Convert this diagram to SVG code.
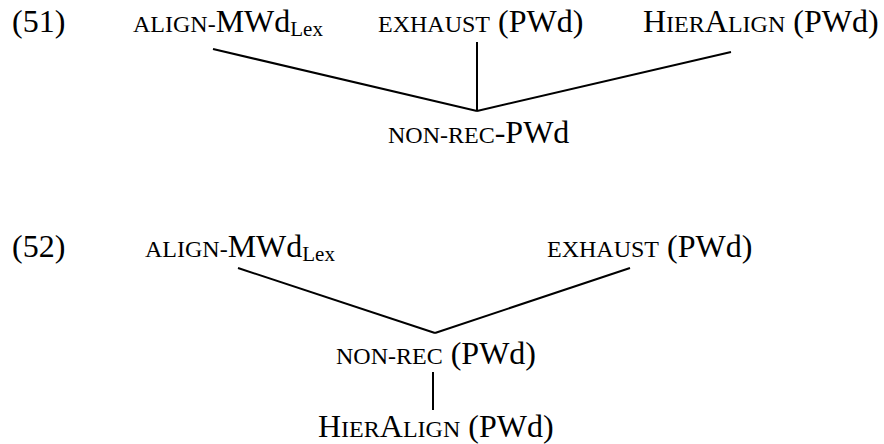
<svg xmlns="http://www.w3.org/2000/svg" width="884" height="444" viewBox="0 0 884 444">
<style>
text{font-family:"Liberation Serif","Times New Roman",serif;font-size:32px;fill:#000}
.sc{font-size:24px}
.sub{font-size:21px}
.ln{stroke:#000;stroke-width:2;fill:none}
</style>
<rect width="884" height="444" fill="#fff"/>
<g id="ex51">
<text x="12" y="32">(51)</text>
<g id="n51-align"><text x="133" y="32"><tspan class="sc">ALIGN-</tspan>MWd<tspan class="sub" dy="4">Lex</tspan></text></g>
<g id="n51-exhaust"><text x="378" y="32"><tspan class="sc">EXHAUST</tspan> (PWd)</text></g>
<g id="n51-hier"><text x="643" y="32">H<tspan class="sc">IER</tspan>A<tspan class="sc">LIGN</tspan> (PWd)</text></g>
<g id="n51-nonrec"><text x="388" y="143"><tspan class="sc">NON-REC</tspan>-PWd</text></g>
</g>
<g id="ex52">
<text x="12" y="257">(52)</text>
<g id="n52-align"><text x="145" y="257"><tspan class="sc">ALIGN-</tspan>MWd<tspan class="sub" dy="4">Lex</tspan></text></g>
<g id="n52-exhaust"><text x="547" y="257"><tspan class="sc">EXHAUST</tspan> (PWd)</text></g>
<g id="n52-nonrec"><text x="336" y="364"><tspan class="sc">NON-REC</tspan> (PWd)</text></g>
<g id="n52-hier"><text x="318" y="437">H<tspan class="sc">IER</tspan>A<tspan class="sc">LIGN</tspan> (PWd)</text></g>
</g>
<g id="connectors">
<line class="ln" x1="213" y1="49" x2="477" y2="111"/>
<line class="ln" x1="477" y1="42" x2="477" y2="111"/>
<line class="ln" x1="731" y1="52" x2="477" y2="111"/>
<line class="ln" x1="238" y1="268" x2="435" y2="333"/>
<line class="ln" x1="630" y1="268" x2="435" y2="333"/>
<line class="ln" x1="433" y1="372" x2="433" y2="410"/>
</g>
</svg>
